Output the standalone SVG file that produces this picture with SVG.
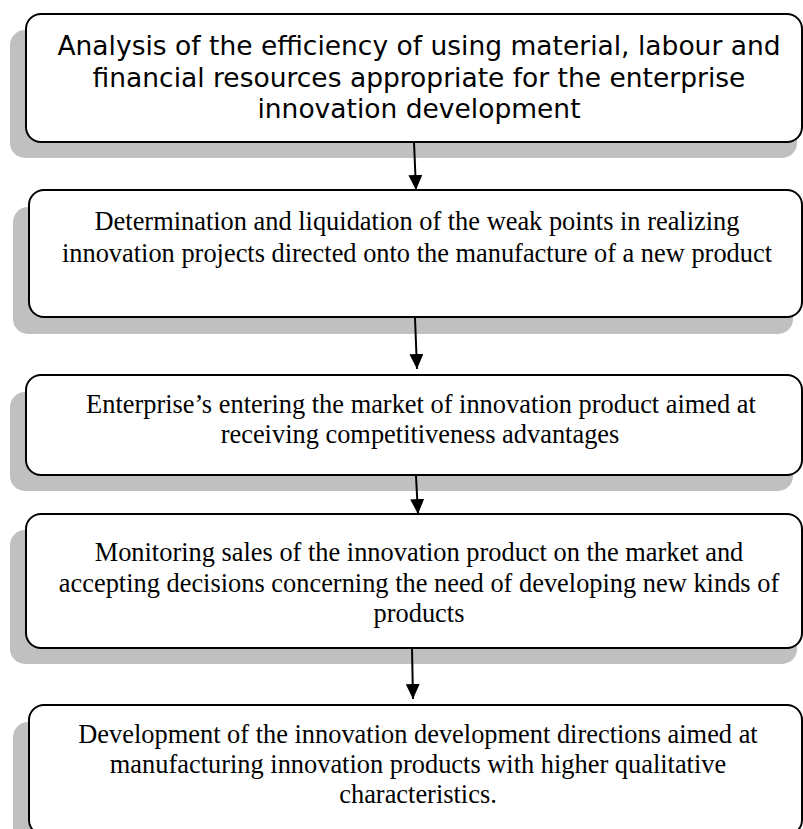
<svg xmlns="http://www.w3.org/2000/svg" width="803" height="829" viewBox="0 0 803 829">
<defs>
<style>
.sh{fill:#c0c0c0;stroke:none}
.bx{fill:#fff;stroke:#000;stroke-width:2}
.sans{font-family:"DejaVu Sans",Verdana,sans-serif;font-size:26.5px;fill:#000;text-anchor:middle}
.serif{font-family:"Liberation Serif","Times New Roman",serif;font-size:26.4px;fill:#000;text-anchor:middle}
.cn{stroke:#000;stroke-width:2;fill:none}
</style>
<marker id="ah" viewBox="0 0 15 14" refX="15" refY="7" markerWidth="15" markerHeight="14" markerUnits="userSpaceOnUse" orient="auto">
<path d="M0,0 L15,7 L0,14 Z" fill="#000"/>
</marker>
</defs>
<rect width="803" height="829" fill="#fff"/>
<g id="node1">
<rect class="sh" x="10" y="30" width="787" height="128" rx="15"/>
<rect class="bx" x="26" y="14" width="776" height="128" rx="15"/>
<text class="sans" x="419" y="55">Analysis of the efficiency of using material, labour and</text>
<text class="sans" x="419" y="87">financial resources appropriate for the enterprise</text>
<text class="sans" x="419" y="118">innovation development</text>
</g>
<g id="node2">
<rect class="sh" x="13" y="207" width="780" height="127" rx="15"/>
<rect class="bx" x="29" y="190" width="773" height="127" rx="15"/>
<text class="serif" x="417" y="230">Determination and liquidation of the weak points in realizing</text>
<text class="serif" x="417" y="262">innovation projects directed onto the manufacture of a new product</text>
</g>
<g id="node3">
<rect class="sh" x="10" y="392" width="783" height="99" rx="15"/>
<rect class="bx" x="26" y="375" width="776" height="100" rx="15"/>
<text class="serif" x="421" y="413">Enterprise’s entering the market of innovation product aimed at</text>
<text class="serif" x="420" y="443">receiving competitiveness advantages</text>
</g>
<g id="node4">
<rect class="sh" x="10" y="530" width="787" height="134" rx="15"/>
<rect class="bx" x="26" y="514" width="776" height="134" rx="15"/>
<text class="serif" x="419" y="561">Monitoring sales of the innovation product on the market and</text>
<text class="serif" x="419" y="592">accepting decisions concerning the need of developing new kinds of</text>
<text class="serif" x="419" y="622">products</text>
</g>
<g id="node5">
<rect class="sh" x="13" y="722" width="780" height="130" rx="15"/>
<rect class="bx" x="29" y="705" width="773" height="130" rx="15"/>
<text class="serif" x="418" y="743">Development of the innovation development directions aimed at</text>
<text class="serif" x="418" y="773">manufacturing innovation products with higher qualitative</text>
<text class="serif" x="418" y="803">characteristics.</text>
</g>
<g id="connectors">
<line class="cn" x1="414" y1="142" x2="416" y2="190" marker-end="url(#ah)"/>
<line class="cn" x1="415" y1="318" x2="417" y2="369" marker-end="url(#ah)"/>
<line class="cn" x1="416" y1="476" x2="418" y2="514" marker-end="url(#ah)"/>
<line class="cn" x1="412" y1="648" x2="413" y2="699" marker-end="url(#ah)"/>
</g>
</svg>
